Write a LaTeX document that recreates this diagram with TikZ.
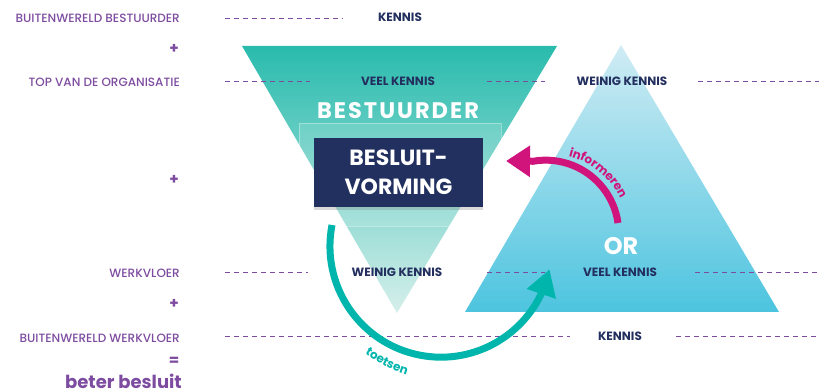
\documentclass[tikz,border=0pt]{standalone}
\usepackage{fontspec}
\setmainfont{Poppins}
\newfontfamily\wijd[LetterSpace=9]{Poppins}
\newfontfamily\middel{Poppins Medium}
\usetikzlibrary{arrows.meta,bending,shadows,decorations.text}

\definecolor{lila}{RGB}{125,76,160}
\definecolor{nachtblauw}{RGB}{35,48,95}
\definecolor{boxblauw}{RGB}{34,48,96}
\definecolor{tealtop}{RGB}{41,187,173}
\definecolor{tealbodem}{RGB}{214,239,235}
\definecolor{blauwtop}{RGB}{208,236,244}
\definecolor{blauwbodem}{RGB}{77,196,223}
\definecolor{toetsgroen}{RGB}{0,181,172}
\definecolor{inforoze}{RGB}{208,20,124}

\tikzset{
  laag/.style={anchor=east, inner sep=0pt, text=lila, font=\middel\fontsize{12}{14}\selectfont},
  plus/.style={inner sep=0pt, text=lila, font=\bfseries\fontsize{15}{15}\selectfont},
  kennis/.style={inner sep=0pt, text=nachtblauw, font=\bfseries\fontsize{12}{14}\selectfont},
  gids/.style={lila, dash pattern=on 5pt off 4pt, line width=0.9pt},
  titel/.style={inner sep=0pt, text=white, font=\bfseries\fontsize{22}{29}\selectfont},
  pijl/.style={line width=7pt},
}

\begin{document}
\begin{tikzpicture}[x=1pt,y=1pt]
    \useasboundingbox (0,0) rectangle (819,390);
    % de twee driehoeken
    \shade [top color=tealtop, bottom color=tealbodem] (242,344) -- (557,344) -- (397,77) -- cycle;
    \shade [top color=blauwtop, bottom color=blauwbodem] (621,345) -- (779,78) -- (465,78) -- cycle;
    \path [fill=white, fill opacity=0.12, draw=white, draw opacity=0.35] (299,267) rectangle (501,164);

    % lagen links
    \node [laag] (bwbest) at (180,372) {BUITENWERELD BESTUURDER};
    \node [plus] (plusa) at (174,341) {+};
    \node [laag] (top) at (180,308) {TOP VAN DE ORGANISATIE};
    \node [plus] (plusb) at (174,210) {+};
    \node [laag] (vloer) at (180,117) {WERKVLOER};
    \node [plus] (plusc) at (174,86) {+};
    \node [laag] (bwvloer) at (180,52) {BUITENWERELD WERKVLOER};
    \node [plus] (is) at (174,29) {=};
    \node [anchor=base east, inner sep=0pt, text=lila, font=\bfseries\fontsize{18}{19}\selectfont] (beter) at (182,1.5) {beter besluit};

    % stippellijnen
    \foreach \y/\a/\b in {372/225/343, 309/225/310, 309/487/545, 309/698/819,
                          118/225/308, 118/487/545, 118/695/819, 54/225/570, 54/676/819}
        \draw [gids] (\a,\y) -- (\b,\y);

    % kennis
    \node [kennis] (kbest) at (400,373) {KENNIS};
    \node [kennis] (veelbest) at (398,309) {VEEL KENNIS};
    \node [kennis] (weinigor) at (622,309) {WEINIG KENNIS};
    \node [kennis] (weinigbest) at (397,118) {WEINIG KENNIS};
    \node [kennis] (veelor) at (620,118) {VEEL KENNIS};
    \node [kennis] (kor) at (620,54) {KENNIS};

    \node [titel, font=\wijd\bfseries\fontsize{22.5}{26}\selectfont] (bestuurder) at (398,279) {BESTUURDER};
    \node [titel, fill=boxblauw, minimum width=169pt, minimum height=69pt, align=center,
           drop shadow={opacity=0.3, shadow xshift=0pt, shadow yshift=-3pt}] (besluit) at (398.5,217.5) {BESLUIT-\\VORMING};
    \node [titel, font=\bfseries\fontsize{24}{28}\selectfont] (or) at (621,144) {OR};

    % pijlen
    \coordinate (infstart) at (618,167);
    \coordinate (infend) at (506,229);
    \coordinate (toetsstart) at (332,165);
    \draw [pijl, inforoze, -{Triangle[length=24pt,width=30pt]}] (infstart) arc [start angle=8, end angle=100, radius=73] -- (infend);
    \draw [pijl, toetsgroen, -{Triangle[length=26pt,width=29pt]}] (toetsstart) arc [start angle=169, end angle=348, radius=111];

    \path [decorate, decoration={text along path, text align=center, text color=inforoze,
           text={|\bfseries\fontsize{12}{14}\selectfont|informeren}}]
        (566.3,234.3) arc [start angle=77, end angle=24, radius=80];
    \path [decorate, decoration={text along path, text align=center, text color=toetsgroen,
           text={|\bfseries\fontsize{12}{14}\selectfont|toetsen}}]
        (353.3,46.2) arc [start angle=226, end angle=260, radius=131];
\end{tikzpicture}
\end{document}
